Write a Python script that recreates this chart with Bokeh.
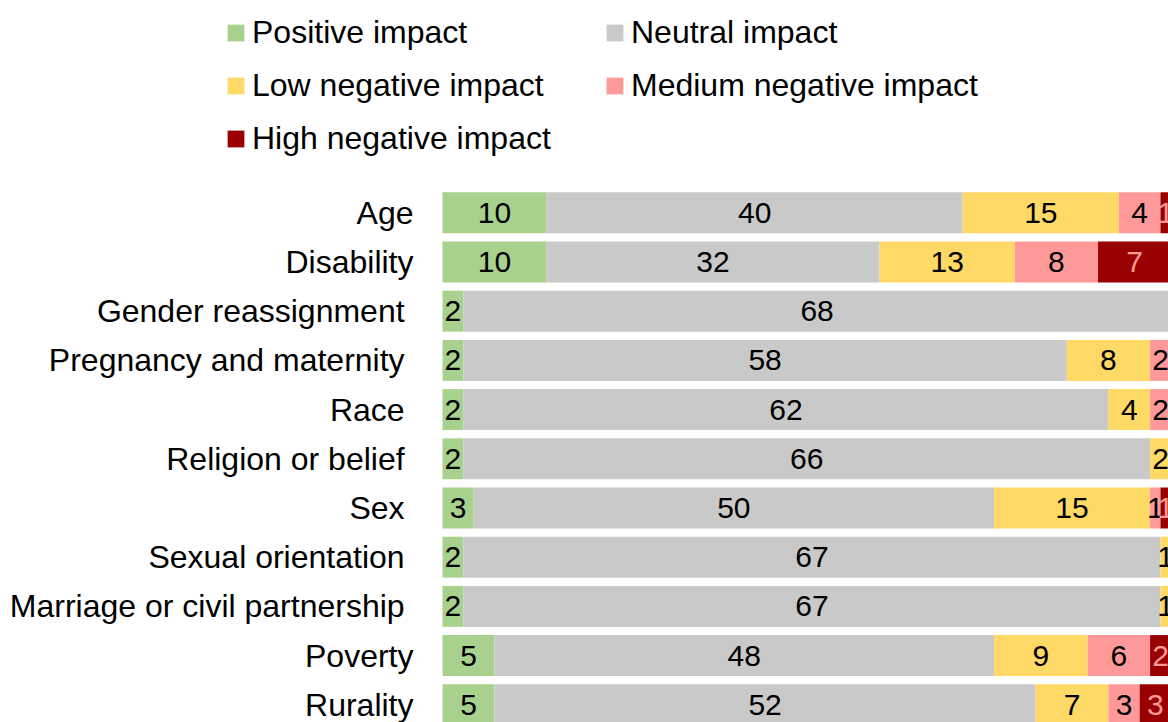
from bokeh.plotting import figure
from bokeh.models import (ColumnDataSource, Range1d, Legend, LegendItem)
from bokeh.core.properties import value
from bokeh.embed import file_html
from bokeh.resources import INLINE

# ---- data ----
categories = ["Age", "Disability", "Gender reassignment ", "Pregnancy and maternity ",
              "Race ", "Religion or belief ", "Sex ", "Sexual orientation ",
              "Marriage or civil partnership ", "Poverty", "Rurality"]
series_names = ["Positive impact", "Neutral impact", "Low negative impact",
                "Medium negative impact", "High negative impact"]
positive = [10, 10, 2, 2, 2, 2, 3, 2, 2, 5, 5]
neutral = [40, 32, 68, 58, 62, 66, 50, 67, 67, 48, 52]
low_neg = [15, 13, 0, 8, 4, 2, 15, 1, 1, 9, 7]
medium_neg = [4, 8, 0, 2, 2, 0, 1, 0, 0, 6, 3]
high_neg = [1, 7, 0, 0, 0, 0, 1, 0, 0, 2, 3]

colors = ["#A9D18E", "#C9C9C9", "#FFD966", "#FF9999", "#990000"]
label_colors = ["black", "black", "black", "black", "#FF9999"]
FONT = "Liberation Sans"

series = [positive, neutral, low_neg, medium_neg, high_neg]
keys = ["pos", "neu", "low", "med", "high"]
ypos = list(range(len(categories)))

data = {"y": ypos}
for k, s in zip(keys, series):
    data[k] = s
source = ColumnDataSource(data)

p = figure(width=1168, height=722, output_backend="svg", toolbar_location=None,
           x_range=Range1d(-42.475, 69.77), y_range=Range1d(10.36, -4.315),
           min_border=0, x_axis_location=None, y_axis_location=None,
           outline_line_color=None)
p.xgrid.visible = False
p.ygrid.visible = False

renderers = p.hbar_stack(keys, y="y", height=0.833, color=colors, line_color=None,
                         source=source)

# category labels (right-aligned, just left of the bars' zero line)
p.text(x=[0] * len(categories), y=ypos, text=categories, x_offset=-29,
       text_align="right", text_baseline="middle", text_font=value(FONT),
       text_font_size="32px", text_color="black")

# data labels
cum = [0] * len(categories)
for s, lc in zip(series, label_colors):
    xs, ys, ts = [], [], []
    for i, v in enumerate(s):
        if v > 0:
            xs.append(cum[i] + v / 2)
            ys.append(i)
            ts.append(str(v))
        cum[i] += v
    p.text(x=xs, y=ys, text=ts, text_align="center", text_baseline="middle",
           text_font=value(FONT), text_font_size="30px", text_color=lc)

items = [LegendItem(label=n, renderers=[r]) for n, r in zip(series_names, renderers)]
legend = Legend(items=items, location=(225, 557), orientation="horizontal", ncols=2,
                glyph_width=21, glyph_height=21, label_standoff=6, label_width=352,
                label_height=53, spacing=0, padding=0, margin=0,
                border_line_color=None, background_fill_alpha=0,
                label_text_font=FONT, label_text_font_size="32px",
                label_text_color="black")
p.add_layout(legend, "center")

open("out.html", "w").write(file_html(p, INLINE))
